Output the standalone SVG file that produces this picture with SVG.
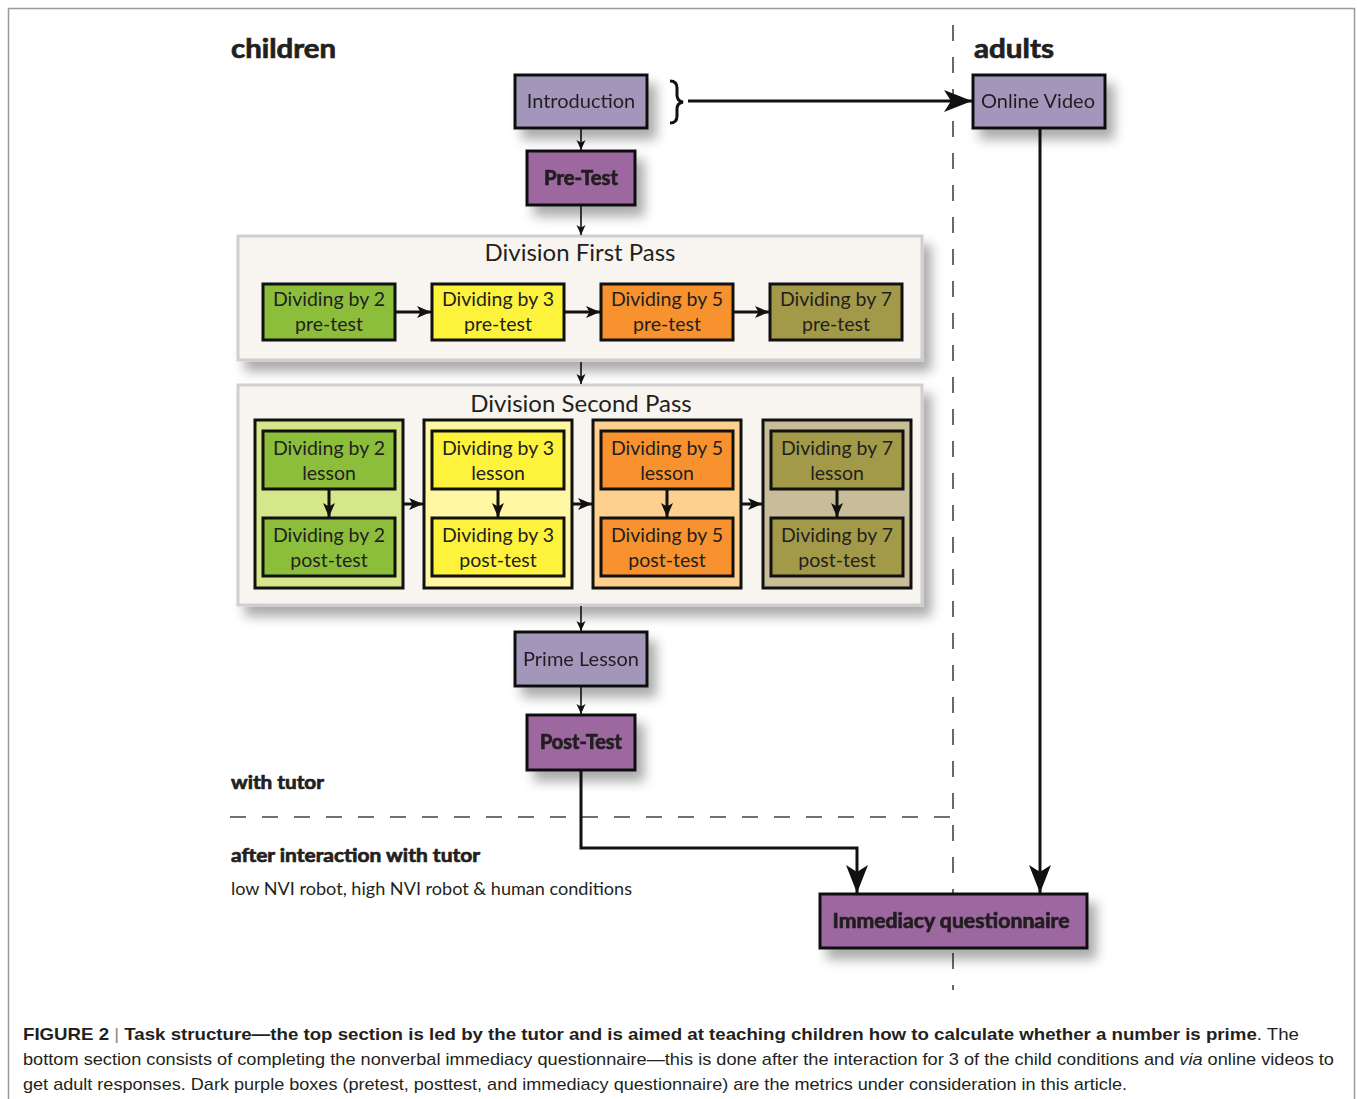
<svg xmlns="http://www.w3.org/2000/svg" width="1357" height="1099" viewBox="0 0 1357 1099">
<style>
.lab{font-family:Lato,"Open Sans","Noto Sans",sans-serif;fill:#231f20;}
.bold{font-weight:bold;stroke:#231f20;stroke-width:0.7;}
.box{stroke:#111;stroke-width:3;}
.lav{fill:#a297bb;}
.pur{fill:#9d67a0;}
.g{fill:#8cbe3c;}
.y{fill:#fef33c;}
.o{fill:#f7922f;}
.ol{fill:#a29a48;}
.panel{fill:#f8f5f0;stroke:#cfcfcf;stroke-width:3;}
.t19{font-size:19.5px;}
.cap{font-family:"Liberation Sans",Arial,sans-serif;font-size:17px;fill:#231f20;}
.conn{fill:none;stroke:#111;}
.dash{fill:none;stroke:#444;stroke-width:1.6;stroke-dasharray:16 16;}
</style>
<defs>
<filter id="sh" x="-20%" y="-20%" width="150%" height="170%">
<feDropShadow dx="8" dy="10" stdDeviation="6" flood-color="#000" flood-opacity="0.33"/>
</filter>
<marker id="sm" viewBox="0 0 10 10" markerUnits="userSpaceOnUse" markerWidth="10" markerHeight="10" refX="10" refY="5" orient="auto">
<path d="M0,0.5 L10,5 L0,9.5 L2.5,5 z" fill="#111"/>
</marker>
<marker id="md" viewBox="0 0 14 12" markerUnits="userSpaceOnUse" markerWidth="14" markerHeight="12" refX="14" refY="6" orient="auto">
<path d="M0,0 L14,6 L0,12 L3.5,6 z" fill="#111"/>
</marker>
<marker id="lg" viewBox="0 0 28 22" markerUnits="userSpaceOnUse" markerWidth="28" markerHeight="22" refX="28" refY="11" orient="auto">
<path d="M0,0 L28,11 L0,22 L7,11 z" fill="#111"/>
</marker>
</defs>
<rect x="0" y="0" width="1357" height="1099" fill="#fff"/>
<path d="M8.5,1099 L8.5,8.5 L1354.5,8.5 L1354.5,1099" fill="none" stroke="#9a9a9a" stroke-width="1.5"/>

<g id="section-labels">
<text class="lab bold" x="231" y="58" font-size="26" textLength="105" lengthAdjust="spacingAndGlyphs">children</text>
<text class="lab bold" x="974" y="58" font-size="26" textLength="80" lengthAdjust="spacingAndGlyphs">adults</text>
<text class="lab bold" x="231" y="789" font-size="19" textLength="93" lengthAdjust="spacingAndGlyphs">with tutor</text>
<text class="lab bold" x="231" y="862" font-size="19" textLength="249" lengthAdjust="spacingAndGlyphs">after interaction with tutor</text>
<text class="lab" x="231" y="895" font-size="17" textLength="401" lengthAdjust="spacingAndGlyphs">low NVI robot, high NVI robot &amp; human conditions</text>
</g>

<g id="dividers">
<line class="dash" x1="953" y1="25" x2="953" y2="990"/>
<line class="dash" x1="230" y1="817" x2="950" y2="817"/>
</g>

<g id="panel-first">
<rect class="panel" x="238" y="236" width="684" height="124" filter="url(#sh)"/>
<text class="lab" x="580" y="261" font-size="24" text-anchor="middle">Division First Pass</text>
</g>
<g id="panel-second">
<rect class="panel" x="238" y="385" width="684" height="220" filter="url(#sh)"/>
<text class="lab" x="581" y="412" font-size="24" text-anchor="middle">Division Second Pass</text>
</g>

<g id="introduction" filter="url(#sh)">
<rect class="box lav" x="515" y="75" width="132" height="53"/>
<text class="lab" x="581" y="108" font-size="20" text-anchor="middle">Introduction</text>
</g>
<g id="online-video" filter="url(#sh)">
<rect class="box lav" x="973" y="75" width="132" height="53"/>
<text class="lab" x="1038" y="108" font-size="20" text-anchor="middle">Online Video</text>
</g>
<g id="pre-test" filter="url(#sh)">
<rect class="box pur" x="527" y="151" width="108" height="54"/>
<text class="lab bold" x="581" y="185" font-size="20" text-anchor="middle" textLength="74" lengthAdjust="spacingAndGlyphs">Pre-Test</text>
</g>

<g id="fp-2">
<rect class="box g" x="263" y="284" width="132" height="56"/>
<text class="lab t19" x="329" y="306" text-anchor="middle">Dividing by 2</text>
<text class="lab t19" x="329" y="331" text-anchor="middle">pre-test</text>
</g>
<g id="fp-3">
<rect class="box y" x="432" y="284" width="132" height="56"/>
<text class="lab t19" x="498" y="306" text-anchor="middle">Dividing by 3</text>
<text class="lab t19" x="498" y="331" text-anchor="middle">pre-test</text>
</g>
<g id="fp-5">
<rect class="box o" x="601" y="284" width="132" height="56"/>
<text class="lab t19" x="667" y="306" text-anchor="middle">Dividing by 5</text>
<text class="lab t19" x="667" y="331" text-anchor="middle">pre-test</text>
</g>
<g id="fp-7">
<rect class="box ol" x="770" y="284" width="132" height="56"/>
<text class="lab t19" x="836" y="306" text-anchor="middle">Dividing by 7</text>
<text class="lab t19" x="836" y="331" text-anchor="middle">pre-test</text>
</g>

<g id="sp-2">
<rect class="box" x="255" y="420" width="148" height="168" fill="#d5e68b"/>
<rect class="box g" x="263" y="431" width="132" height="58"/>
<text class="lab t19" x="329" y="455" text-anchor="middle">Dividing by 2</text>
<text class="lab t19" x="329" y="480" text-anchor="middle">lesson</text>
<rect class="box g" x="263" y="518" width="132" height="58"/>
<text class="lab t19" x="329" y="542" text-anchor="middle">Dividing by 2</text>
<text class="lab t19" x="329" y="567" text-anchor="middle">post-test</text>
</g>
<g id="sp-3">
<rect class="box" x="424" y="420" width="148" height="168" fill="#fff7a4"/>
<rect class="box y" x="432" y="431" width="132" height="58"/>
<text class="lab t19" x="498" y="455" text-anchor="middle">Dividing by 3</text>
<text class="lab t19" x="498" y="480" text-anchor="middle">lesson</text>
<rect class="box y" x="432" y="518" width="132" height="58"/>
<text class="lab t19" x="498" y="542" text-anchor="middle">Dividing by 3</text>
<text class="lab t19" x="498" y="567" text-anchor="middle">post-test</text>
</g>
<g id="sp-5">
<rect class="box" x="593" y="420" width="148" height="168" fill="#fdd08f"/>
<rect class="box o" x="601" y="431" width="132" height="58"/>
<text class="lab t19" x="667" y="455" text-anchor="middle">Dividing by 5</text>
<text class="lab t19" x="667" y="480" text-anchor="middle">lesson</text>
<rect class="box o" x="601" y="518" width="132" height="58"/>
<text class="lab t19" x="667" y="542" text-anchor="middle">Dividing by 5</text>
<text class="lab t19" x="667" y="567" text-anchor="middle">post-test</text>
</g>
<g id="sp-7">
<rect class="box" x="763" y="420" width="148" height="168" fill="#c8bd99"/>
<rect class="box ol" x="771" y="431" width="132" height="58"/>
<text class="lab t19" x="837" y="455" text-anchor="middle">Dividing by 7</text>
<text class="lab t19" x="837" y="480" text-anchor="middle">lesson</text>
<rect class="box ol" x="771" y="518" width="132" height="58"/>
<text class="lab t19" x="837" y="542" text-anchor="middle">Dividing by 7</text>
<text class="lab t19" x="837" y="567" text-anchor="middle">post-test</text>
</g>

<g id="prime-lesson" filter="url(#sh)">
<rect class="box lav" x="515" y="632" width="132" height="54"/>
<text class="lab" x="581" y="666" font-size="20" text-anchor="middle">Prime Lesson</text>
</g>
<g id="post-test" filter="url(#sh)">
<rect class="box pur" x="527" y="715" width="108" height="55"/>
<text class="lab bold" x="581" y="749" font-size="20" text-anchor="middle" textLength="82" lengthAdjust="spacingAndGlyphs">Post-Test</text>
</g>
<g id="immediacy" filter="url(#sh)">
<rect class="box pur" x="820" y="894" width="267" height="54"/>
<text class="lab bold" x="951" y="928" font-size="20" text-anchor="middle" textLength="237" lengthAdjust="spacingAndGlyphs">Immediacy questionnaire</text>
</g>

<g id="connectors">
<path class="conn" stroke-width="3" d="M670,81 Q677,81 677,88 L677,95 Q677,101 683,102 Q677,103 677,109 L677,116 Q677,123 670,123"/>
<line class="conn" stroke-width="3" x1="688" y1="101" x2="972" y2="101" marker-end="url(#lg)"/>
<line class="conn" stroke-width="1.6" x1="581" y1="129" x2="581" y2="150" marker-end="url(#sm)"/>
<line class="conn" stroke-width="1.6" x1="581" y1="206" x2="581" y2="235" marker-end="url(#sm)"/>
<line class="conn" stroke-width="3" x1="396" y1="312" x2="431" y2="312" marker-end="url(#md)"/>
<line class="conn" stroke-width="3" x1="565" y1="312" x2="600" y2="312" marker-end="url(#md)"/>
<line class="conn" stroke-width="3" x1="734" y1="312" x2="769" y2="312" marker-end="url(#md)"/>
<line class="conn" stroke-width="1.6" x1="581" y1="362" x2="581" y2="384" marker-end="url(#sm)"/>
<line class="conn" stroke-width="3" x1="329" y1="490" x2="329" y2="517" marker-end="url(#md)"/>
<line class="conn" stroke-width="3" x1="498" y1="490" x2="498" y2="517" marker-end="url(#md)"/>
<line class="conn" stroke-width="3" x1="667" y1="490" x2="667" y2="517" marker-end="url(#md)"/>
<line class="conn" stroke-width="3" x1="837" y1="490" x2="837" y2="517" marker-end="url(#md)"/>
<line class="conn" stroke-width="3" x1="404" y1="504" x2="423" y2="504" marker-end="url(#md)"/>
<line class="conn" stroke-width="3" x1="573" y1="504" x2="592" y2="504" marker-end="url(#md)"/>
<line class="conn" stroke-width="3" x1="742" y1="504" x2="762" y2="504" marker-end="url(#md)"/>
<line class="conn" stroke-width="1.6" x1="581" y1="606" x2="581" y2="631" marker-end="url(#sm)"/>
<line class="conn" stroke-width="1.6" x1="581" y1="687" x2="581" y2="714" marker-end="url(#sm)"/>
<path class="conn" stroke-width="3" d="M581,771 L581,848 L857,848 L857,893" marker-end="url(#lg)"/>
<line class="conn" stroke-width="3" x1="1040" y1="129" x2="1040" y2="893" marker-end="url(#lg)"/>
</g>

<g id="caption">
<text class="cap" x="23" y="1040" textLength="1276" lengthAdjust="spacingAndGlyphs"><tspan font-weight="bold">FIGURE 2</tspan><tspan fill="#888"> | </tspan><tspan font-weight="bold">Task structure—the top section is led by the tutor and is aimed at teaching children how to calculate whether a number is prime</tspan>. The</text>
<text class="cap" x="23" y="1065" textLength="1311" lengthAdjust="spacingAndGlyphs">bottom section consists of completing the nonverbal immediacy questionnaire—this is done after the interaction for 3 of the child conditions and <tspan font-style="italic">via</tspan> online videos to</text>
<text class="cap" x="23" y="1090" textLength="1104" lengthAdjust="spacingAndGlyphs">get adult responses. Dark purple boxes (pretest, posttest, and immediacy questionnaire) are the metrics under consideration in this article.</text>
</g>
</svg>
